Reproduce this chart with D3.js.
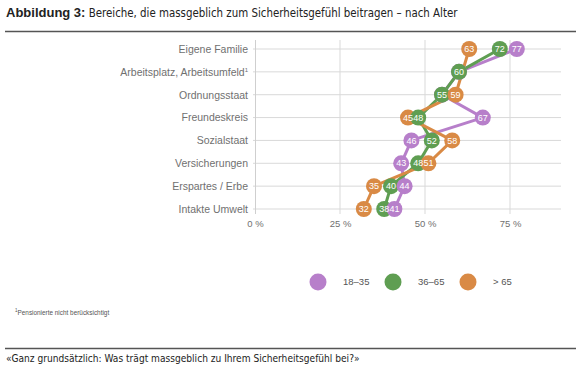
<!DOCTYPE html>
<html>
<head>
<meta charset="utf-8">
<script src="https://cdn.jsdelivr.net/npm/d3@7"></script>
<style>
  body { margin: 0; background: #fff; }
  text { font-family: "Liberation Sans", Arial, sans-serif; }
</style>
</head>
<body>
<svg width="582" height="384"></svg>
<script>
const categories = ['Eigene Familie', 'Arbeitsplatz, Arbeitsumfeld', 'Ordnungsstaat', 'Freundeskreis',
  'Sozialstaat', 'Versicherungen', 'Erspartes / Erbe', 'Intakte Umwelt']
const age1835 = [77, 60, 55, 67, 46, 43, 44, 41]
const age3665 = [72, 60, 55, 48, 52, 48, 40, 38]
const age65 = [63, null, 59, 45, 58, 51, 35, 32]
const seriesNames = ['18–35', '36–65', '> 65']
const xTicks = [0, 25, 50, 75]

const colors = ['#b77fca', '#5f9e52', '#d98a45']
const series = [age1835, age3665, age65]

const svg = d3.select('svg')
const condensed = '"DejaVu Sans Condensed", "Liberation Sans", sans-serif'

// header
const title = svg.append('text').attr('x', 6).attr('y', 17).attr('font-size', 13).attr('fill', '#222')
title.append('tspan').attr('font-weight', 'bold').text('Abbildung 3:')
title.append('tspan').text(' Bereiche, die massgeblich zum Sicherheitsgefühl beitragen – nach Alter')
  .style('font-family', condensed).attr('font-size', 11.4)
svg.append('line').attr('x1', 5).attr('x2', 576).attr('y1', 31.5).attr('y2', 31.5)
  .attr('stroke', '#555').attr('stroke-width', 1.5)

const x = d3.scaleLinear().domain([0, 90]).range([255, 561])
const y = d3.scalePoint().domain(categories).range([49, 209])

// grid
svg.append('g').selectAll('line').data(categories).enter().append('line')
  .attr('x1', 253).attr('x2', 561).attr('y1', d => y(d)).attr('y2', d => y(d))
  .attr('stroke', '#d9d9d9').attr('stroke-width', 1)
svg.append('g').selectAll('line').data(xTicks.slice(1)).enter().append('line')
  .attr('x1', d => x(d)).attr('x2', d => x(d)).attr('y1', 40).attr('y2', 214)
  .attr('stroke', '#d9d9d9').attr('stroke-width', 1)
svg.append('line').attr('x1', 255.5).attr('x2', 255.5).attr('y1', 40).attr('y2', 214)
  .attr('stroke', '#cfcfcf')

// axes labels
const yAxis = svg.append('g').attr('transform', 'translate(255,0)')
  .call(d3.axisLeft(y).tickSize(0).tickPadding(7))
yAxis.select('.domain').remove()
yAxis.selectAll('text').attr('font-size', 10.5).attr('fill', '#707070').attr('font-family', null)
  .text(d => d === 'Arbeitsplatz, Arbeitsumfeld' ? '' : d)
  .each(function (d) {
    if (d === 'Arbeitsplatz, Arbeitsumfeld') {
      const t = d3.select(this)
      t.append('tspan').text(d)
      t.append('tspan').attr('dy', -4).attr('font-size', 6).text('1')
    }
  })

const xAxis = svg.append('g').attr('transform', 'translate(0,214)')
  .call(d3.axisBottom(x).tickValues(xTicks).tickSize(0).tickPadding(6).tickFormat(d => d + ' %'))
xAxis.select('.domain').remove()
xAxis.selectAll('text').attr('font-size', 9.5).attr('fill', '#707070').attr('font-family', null)

// lines
const line = d3.line().x(d => x(d.v)).y(d => y(d.c))
series.forEach((s, i) => {
  const pts = s.map((v, j) => ({ v: v, c: categories[j] })).filter(d => d.v !== null)
  svg.append('path').datum(pts).attr('d', line).attr('fill', 'none')
    .attr('stroke', colors[i]).attr('stroke-width', 3).attr('stroke-linejoin', 'round')
})

// dots low to high, then all value labels on top (one label per spot)
const dots = []
series.forEach((s, i) => s.forEach((v, j) => { if (v !== null) dots.push({ v: v, c: categories[j], s: i }) }))
dots.sort((a, b) => a.v - b.v || a.s - b.s)
svg.append('g').selectAll('circle').data(dots).enter().append('circle')
  .attr('cx', d => x(d.v)).attr('cy', d => y(d.c))
  .attr('r', 8).attr('fill', d => colors[d.s])
const labels = dots.filter((d, i) => !dots.some((o, k) => k > i && o.v === d.v && o.c === d.c))
svg.append('g').selectAll('text').data(labels).enter().append('text')
  .attr('x', d => x(d.v)).attr('y', d => y(d.c))
  .attr('text-anchor', 'middle').attr('dy', '0.35em')
  .attr('font-size', 9).attr('fill', '#fff').text(d => d.v)

// legend
const legendX = [318, 393, 468]
const legend = svg.append('g').selectAll('g').data(seriesNames).enter().append('g')
  .attr('transform', (d, i) => 'translate(' + legendX[i] + ',282)')
legend.append('circle').attr('r', 8.5).attr('fill', (d, i) => colors[i])
legend.append('text').attr('x', 25).attr('dy', '0.35em').attr('font-size', 9.5).attr('fill', '#555').text(d => d)

// footnote
const foot = svg.append('text').attr('x', 15).attr('y', 315).attr('font-size', 6.4).attr('fill', '#555')
foot.append('tspan').attr('font-size', 4.5).attr('dy', -3).text('1')
foot.append('tspan').attr('dy', 3).text('Pensionierte nicht berücksichtigt')

svg.append('line').attr('x1', 5).attr('x2', 576).attr('y1', 348.5).attr('y2', 348.5)
  .attr('stroke', '#555').attr('stroke-width', 1.5)
svg.append('text').attr('x', 6).attr('y', 362).attr('font-size', 10.1).attr('fill', '#222')
  .style('font-family', condensed)
  .text('«Ganz grundsätzlich: Was trägt massgeblich zu Ihrem Sicherheitsgefühl bei?»')
</script>
</body>
</html>
